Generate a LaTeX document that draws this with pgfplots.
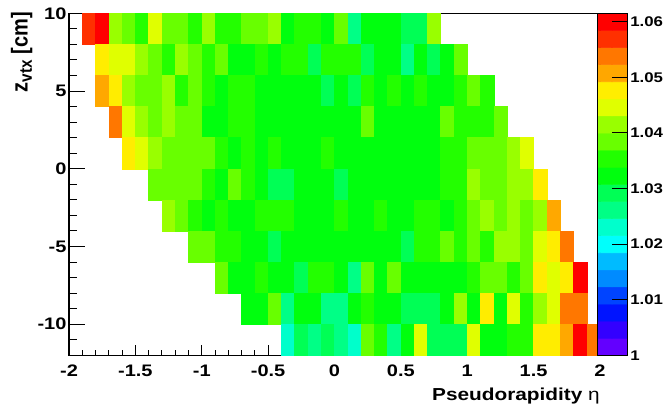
\documentclass[border=0pt]{standalone}
\usepackage{fontspec}
\setmainfont{Liberation Sans}
\newfontfamily\wide{Liberation Sans}[FakeStretch=1.2]
\usepackage{graphicx}
\usepackage{pgfplots}
\pgfplotsset{compat=1.18}
\pgfdeclareplotmark{cell}{%
  \pgfpathrectangle{\pgfqpoint{-4.978pt}{-11.659pt}}{\pgfqpoint{9.956pt}{23.318pt}}%
  \pgfusepathqfillstroke}
\pgfplotsset{colormap={rootpal}{rgb255=(99,0,255) rgb255=(51,0,255) rgb255=(0,20,255) rgb255=(0,68,255) rgb255=(0,139,255) rgb255=(0,187,255) rgb255=(0,255,252) rgb255=(0,255,204) rgb255=(0,255,133) rgb255=(0,255,85) rgb255=(0,255,14) rgb255=(34,255,0) rgb255=(105,255,0) rgb255=(153,255,0) rgb255=(224,255,0) rgb255=(255,238,0) rgb255=(255,167,0) rgb255=(255,119,0) rgb255=(255,48,0) rgb255=(255,0,0)}}
\begin{document}
\begin{tikzpicture}
\useasboundingbox (-51.75pt,-39.5pt) rectangle (447pt,266.5pt);
\begin{axis}[
  scale only axis, width=398.25pt, height=256.5pt,
  at={(0pt,0pt)}, anchor=south west,
  xmin=-2, xmax=2, ymin=-12, ymax=10,
  axis on top,
  axis line style={line width=1.1pt},
  tick pos=left, tick align=inside,
  xtick={-2,-1.5,-1,-0.5,0,0.5,1,1.5,2},
  xticklabels={-2,-1.5,-1,-0.5,0,0.5,1,1.5,2},
  minor x tick num=4,
  ytick={-10,-5,0,5,10},
  yticklabels={-10,-5,0,5,10},
  minor ytick={-11,-9,-8,-7,-6,-4,-3,-2,-1,1,2,3,4,6,7,8,9},
  xtick style={/pgfplots/major tick length=7.5pt,/pgfplots/minor tick length=3.75pt,line width=0.75pt,black},
  ytick style={/pgfplots/major tick length=12pt,/pgfplots/minor tick length=6pt,line width=0.75pt,black},
  xticklabel style={font=\wide\bfseries\fontsize{12.5}{14}\selectfont, inner sep=0pt, yshift=-7.3pt},
  yticklabel style={font=\wide\bfseries\fontsize{12.5}{14}\selectfont, inner sep=0pt, xshift=-1.7pt},
  point meta min=1.0015375, point meta max=1.0599625,
  xlabel={\wide\bfseries\fontsize{13}{15}\selectfont Pseudorapidity {\fontseries{m}\selectfont η}},
  ylabel={\scalebox{1}[1.15]{\bfseries\fontsize{15}{17}\selectfont z\raisebox{-0.35ex}{\fontsize{11.5}{12}\selectfont vtx} [cm]}},
  every axis x label/.style={at={(axis description cs:1,0)}, yshift=-33.5pt, anchor=base east, inner sep=0pt},
  every axis y label/.style={at={(axis description cs:0,1)}, xshift=-31.1pt, yshift=1pt, rotate=90, anchor=base east, inner sep=0pt},
]
\addplot[scatter, only marks, mark=cell, point meta=explicit,
  scatter/use mapped color={draw=mapped color, fill=mapped color},
  mark options={line width=0.3pt}] coordinates {
(-1.85,9) [1.0569] (-1.75,9) [1.0600] (-1.65,9) [1.0415] (-1.55,9) [1.0384] (-1.45,9) [1.0354] (-1.35,9) [1.0446] (-1.25,9) [1.0384] (-1.15,9) [1.0384] (-1.05,9) [1.0354] (-0.95,9) [1.0415] (-0.85,9) [1.0354] (-0.75,9) [1.0354] (-0.65,9) [1.0384] (-0.55,9) [1.0384] (-0.45,9) [1.0415] (-0.35,9) [1.0323] (-0.25,9) [1.0354] (-0.15,9) [1.0354] (-0.05,9) [1.0323] (0.05,9) [1.0384] (0.15,9) [1.0261] (0.25,9) [1.0323] (0.35,9) [1.0323] (0.45,9) [1.0323] (0.55,9) [1.0292] (0.65,9) [1.0292] (0.75,9) [1.0415]
(-1.75,7) [1.0477] (-1.65,7) [1.0446] (-1.55,7) [1.0446] (-1.45,7) [1.0415] (-1.35,7) [1.0384] (-1.25,7) [1.0354] (-1.15,7) [1.0415] (-1.05,7) [1.0384] (-0.95,7) [1.0354] (-0.85,7) [1.0384] (-0.75,7) [1.0323] (-0.65,7) [1.0323] (-0.55,7) [1.0354] (-0.45,7) [1.0323] (-0.35,7) [1.0354] (-0.25,7) [1.0354] (-0.15,7) [1.0292] (-0.05,7) [1.0354] (0.05,7) [1.0354] (0.15,7) [1.0354] (0.25,7) [1.0292] (0.35,7) [1.0323] (0.45,7) [1.0323] (0.55,7) [1.0261] (0.65,7) [1.0323] (0.75,7) [1.0292] (0.85,7) [1.0323] (0.95,7) [1.0384]
(-1.75,5) [1.0507] (-1.65,5) [1.0477] (-1.55,5) [1.0415] (-1.45,5) [1.0384] (-1.35,5) [1.0384] (-1.25,5) [1.0415] (-1.15,5) [1.0354] (-1.05,5) [1.0384] (-0.95,5) [1.0354] (-0.85,5) [1.0323] (-0.75,5) [1.0354] (-0.65,5) [1.0354] (-0.55,5) [1.0323] (-0.45,5) [1.0323] (-0.35,5) [1.0323] (-0.25,5) [1.0323] (-0.15,5) [1.0323] (-0.05,5) [1.0292] (0.05,5) [1.0323] (0.15,5) [1.0292] (0.25,5) [1.0354] (0.35,5) [1.0323] (0.45,5) [1.0354] (0.55,5) [1.0323] (0.65,5) [1.0354] (0.75,5) [1.0323] (0.85,5) [1.0323] (0.95,5) [1.0354] (1.05,5) [1.0384] (1.15,5) [1.0354]
(-1.65,3) [1.0538] (-1.55,3) [1.0446] (-1.45,3) [1.0415] (-1.35,3) [1.0384] (-1.25,3) [1.0415] (-1.15,3) [1.0384] (-1.05,3) [1.0384] (-0.95,3) [1.0323] (-0.85,3) [1.0323] (-0.75,3) [1.0354] (-0.65,3) [1.0354] (-0.55,3) [1.0323] (-0.45,3) [1.0323] (-0.35,3) [1.0323] (-0.25,3) [1.0323] (-0.15,3) [1.0323] (-0.05,3) [1.0323] (0.05,3) [1.0323] (0.15,3) [1.0323] (0.25,3) [1.0384] (0.35,3) [1.0323] (0.45,3) [1.0323] (0.55,3) [1.0323] (0.65,3) [1.0323] (0.75,3) [1.0323] (0.85,3) [1.0384] (0.95,3) [1.0354] (1.05,3) [1.0354] (1.15,3) [1.0354] (1.25,3) [1.0384]
(-1.55,1) [1.0477] (-1.45,1) [1.0446] (-1.35,1) [1.0415] (-1.25,1) [1.0384] (-1.15,1) [1.0384] (-1.05,1) [1.0384] (-0.95,1) [1.0384] (-0.85,1) [1.0354] (-0.75,1) [1.0323] (-0.65,1) [1.0354] (-0.55,1) [1.0323] (-0.45,1) [1.0354] (-0.35,1) [1.0323] (-0.25,1) [1.0323] (-0.15,1) [1.0323] (-0.05,1) [1.0354] (0.05,1) [1.0323] (0.15,1) [1.0323] (0.25,1) [1.0323] (0.35,1) [1.0323] (0.45,1) [1.0323] (0.55,1) [1.0323] (0.65,1) [1.0323] (0.75,1) [1.0323] (0.85,1) [1.0354] (0.95,1) [1.0354] (1.05,1) [1.0384] (1.15,1) [1.0384] (1.25,1) [1.0384] (1.35,1) [1.0415] (1.45,1) [1.0446]
(-1.35,-1) [1.0384] (-1.25,-1) [1.0384] (-1.15,-1) [1.0384] (-1.05,-1) [1.0384] (-0.95,-1) [1.0354] (-0.85,-1) [1.0323] (-0.75,-1) [1.0384] (-0.65,-1) [1.0354] (-0.55,-1) [1.0323] (-0.45,-1) [1.0292] (-0.35,-1) [1.0292] (-0.25,-1) [1.0323] (-0.15,-1) [1.0323] (-0.05,-1) [1.0323] (0.05,-1) [1.0292] (0.15,-1) [1.0323] (0.25,-1) [1.0323] (0.35,-1) [1.0323] (0.45,-1) [1.0323] (0.55,-1) [1.0323] (0.65,-1) [1.0323] (0.75,-1) [1.0323] (0.85,-1) [1.0354] (0.95,-1) [1.0354] (1.05,-1) [1.0415] (1.15,-1) [1.0384] (1.25,-1) [1.0384] (1.35,-1) [1.0415] (1.45,-1) [1.0415] (1.55,-1) [1.0477]
(-1.25,-3) [1.0415] (-1.15,-3) [1.0384] (-1.05,-3) [1.0354] (-0.95,-3) [1.0323] (-0.85,-3) [1.0354] (-0.75,-3) [1.0323] (-0.65,-3) [1.0323] (-0.55,-3) [1.0354] (-0.45,-3) [1.0354] (-0.35,-3) [1.0354] (-0.25,-3) [1.0323] (-0.15,-3) [1.0323] (-0.05,-3) [1.0323] (0.05,-3) [1.0354] (0.15,-3) [1.0323] (0.25,-3) [1.0323] (0.35,-3) [1.0354] (0.45,-3) [1.0323] (0.55,-3) [1.0323] (0.65,-3) [1.0354] (0.75,-3) [1.0354] (0.85,-3) [1.0323] (0.95,-3) [1.0354] (1.05,-3) [1.0384] (1.15,-3) [1.0415] (1.25,-3) [1.0384] (1.35,-3) [1.0415] (1.45,-3) [1.0384] (1.55,-3) [1.0415] (1.65,-3) [1.0507]
(-1.05,-5) [1.0384] (-0.95,-5) [1.0384] (-0.85,-5) [1.0354] (-0.75,-5) [1.0354] (-0.65,-5) [1.0323] (-0.55,-5) [1.0323] (-0.45,-5) [1.0292] (-0.35,-5) [1.0323] (-0.25,-5) [1.0323] (-0.15,-5) [1.0323] (-0.05,-5) [1.0323] (0.05,-5) [1.0323] (0.15,-5) [1.0323] (0.25,-5) [1.0323] (0.35,-5) [1.0323] (0.45,-5) [1.0323] (0.55,-5) [1.0292] (0.65,-5) [1.0354] (0.75,-5) [1.0354] (0.85,-5) [1.0384] (0.95,-5) [1.0354] (1.05,-5) [1.0384] (1.15,-5) [1.0354] (1.25,-5) [1.0415] (1.35,-5) [1.0415] (1.45,-5) [1.0384] (1.55,-5) [1.0446] (1.65,-5) [1.0477] (1.75,-5) [1.0538]
(-0.85,-7) [1.0384] (-0.75,-7) [1.0323] (-0.65,-7) [1.0323] (-0.55,-7) [1.0354] (-0.45,-7) [1.0323] (-0.35,-7) [1.0323] (-0.25,-7) [1.0292] (-0.15,-7) [1.0354] (-0.05,-7) [1.0354] (0.05,-7) [1.0323] (0.15,-7) [1.0261] (0.25,-7) [1.0384] (0.35,-7) [1.0323] (0.45,-7) [1.0384] (0.55,-7) [1.0323] (0.65,-7) [1.0323] (0.75,-7) [1.0323] (0.85,-7) [1.0323] (0.95,-7) [1.0323] (1.05,-7) [1.0354] (1.15,-7) [1.0384] (1.25,-7) [1.0384] (1.35,-7) [1.0354] (1.45,-7) [1.0384] (1.55,-7) [1.0477] (1.65,-7) [1.0446] (1.75,-7) [1.0477] (1.85,-7) [1.0600]
(-0.65,-9) [1.0323] (-0.55,-9) [1.0323] (-0.45,-9) [1.0384] (-0.35,-9) [1.0261] (-0.25,-9) [1.0323] (-0.15,-9) [1.0323] (-0.05,-9) [1.0261] (0.05,-9) [1.0261] (0.15,-9) [1.0323] (0.25,-9) [1.0354] (0.35,-9) [1.0323] (0.45,-9) [1.0323] (0.55,-9) [1.0292] (0.65,-9) [1.0292] (0.75,-9) [1.0292] (0.85,-9) [1.0323] (0.95,-9) [1.0415] (1.05,-9) [1.0323] (1.15,-9) [1.0477] (1.25,-9) [1.0323] (1.35,-9) [1.0446] (1.45,-9) [1.0354] (1.55,-9) [1.0415] (1.65,-9) [1.0446] (1.75,-9) [1.0538] (1.85,-9) [1.0538]
(-0.35,-11) [1.0231] (-0.25,-11) [1.0292] (-0.15,-11) [1.0261] (-0.05,-11) [1.0292] (0.05,-11) [1.0261] (0.15,-11) [1.0231] (0.25,-11) [1.0384] (0.35,-11) [1.0354] (0.45,-11) [1.0261] (0.55,-11) [1.0323] (0.65,-11) [1.0446] (0.75,-11) [1.0292] (0.85,-11) [1.0292] (0.95,-11) [1.0292] (1.05,-11) [1.0446] (1.15,-11) [1.0323] (1.25,-11) [1.0323] (1.35,-11) [1.0354] (1.45,-11) [1.0354] (1.55,-11) [1.0477] (1.65,-11) [1.0477] (1.75,-11) [1.0507] (1.85,-11) [1.0600] (1.95,-11) [1.0538]
};
\end{axis}
\begin{axis}[
  scale only axis, width=22.5pt, height=256.5pt,
  at={(396pt,0pt)}, anchor=south west,
  xmin=0, xmax=1, ymin=1, ymax=1.0615,
  axis on top,
  axis line style={line width=0.75pt},
  xtick=\empty,
  ytick={1,1.01,1.02,1.03,1.04,1.05,1.06},
  yticklabels={1,1.01,1.02,1.03,1.04,1.05,1.06},
  ytick pos=right, yticklabel pos=right, tick align=inside,
  major tick length=11.25pt,
  ytick style={line width=0.75pt, black},
  yticklabel style={font=\wide\bfseries\fontsize{10.5}{12}\selectfont, inner sep=0pt, xshift=2.25pt},
  point meta min=1.0015375, point meta max=1.0599625,
]
\addplot[matrix plot*, mesh/cols=2, point meta=explicit] coordinates {
(0.25,1.0015375) [1.0015375] (0.75,1.0015375) [1.0015375]
(0.25,1.0046125) [1.0046125] (0.75,1.0046125) [1.0046125]
(0.25,1.0076875) [1.0076875] (0.75,1.0076875) [1.0076875]
(0.25,1.0107625) [1.0107625] (0.75,1.0107625) [1.0107625]
(0.25,1.0138375) [1.0138375] (0.75,1.0138375) [1.0138375]
(0.25,1.0169125) [1.0169125] (0.75,1.0169125) [1.0169125]
(0.25,1.0199875) [1.0199875] (0.75,1.0199875) [1.0199875]
(0.25,1.0230625) [1.0230625] (0.75,1.0230625) [1.0230625]
(0.25,1.0261375) [1.0261375] (0.75,1.0261375) [1.0261375]
(0.25,1.0292125) [1.0292125] (0.75,1.0292125) [1.0292125]
(0.25,1.0322875) [1.0322875] (0.75,1.0322875) [1.0322875]
(0.25,1.0353625) [1.0353625] (0.75,1.0353625) [1.0353625]
(0.25,1.0384375) [1.0384375] (0.75,1.0384375) [1.0384375]
(0.25,1.0415125) [1.0415125] (0.75,1.0415125) [1.0415125]
(0.25,1.0445875) [1.0445875] (0.75,1.0445875) [1.0445875]
(0.25,1.0476625) [1.0476625] (0.75,1.0476625) [1.0476625]
(0.25,1.0507375) [1.0507375] (0.75,1.0507375) [1.0507375]
(0.25,1.0538125) [1.0538125] (0.75,1.0538125) [1.0538125]
(0.25,1.0568875) [1.0568875] (0.75,1.0568875) [1.0568875]
(0.25,1.0599625) [1.0599625] (0.75,1.0599625) [1.0599625]
};
\end{axis}
\end{tikzpicture}
\end{document}
